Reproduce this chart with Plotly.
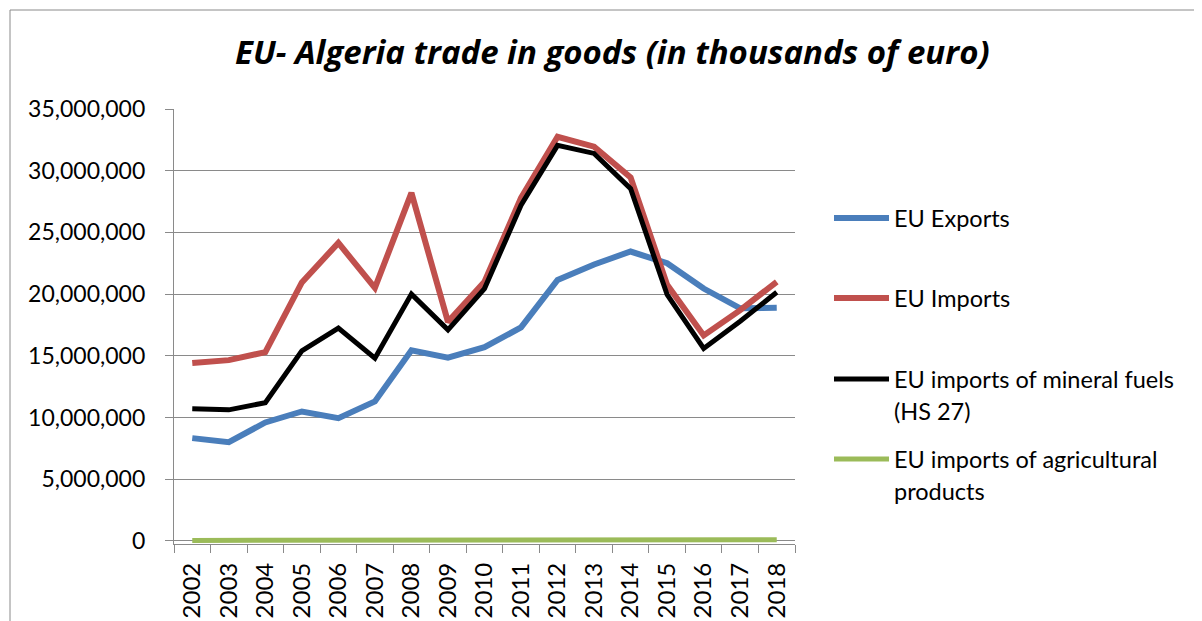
import plotly.graph_objects as go

years = ["2002", "2003", "2004", "2005", "2006", "2007", "2008", "2009", "2010",
         "2011", "2012", "2013", "2014", "2015", "2016", "2017", "2018"]
eu_exports = [8330000, 8000000, 9600000, 10490000, 9950000, 11300000, 15450000, 14850000, 15700000,
              17300000, 21150000, 22400000, 23450000, 22500000, 20450000, 18850000, 18900000]
eu_imports = [14410000, 14650000, 15300000, 20950000, 24150000, 20500000, 28200000, 17750000, 21000000,
              27800000, 32750000, 31950000, 29450000, 20750000, 16650000, 18700000, 21000000]
eu_imports_fuels = [10700000, 10620000, 11200000, 15400000, 17250000, 14800000, 20000000, 17100000, 20450000,
                    27200000, 32050000, 31400000, 28550000, 19950000, 15600000, 17800000, 20150000]
eu_imports_agri = [40000, 40000, 40000, 40000, 40000, 40000, 40000, 40000, 50000,
                   120000, 90000, 130000, 120000, 80000, 100000, 130000, 100000]

series_names = ["EU Exports", "EU Imports", "EU imports of mineral fuels (HS 27)",
                "EU imports of agricultural products"]
legend_lines = [["EU Exports"], ["EU Imports"], ["EU imports of mineral fuels", "(HS 27)"],
                ["EU imports of agricultural", "products"]]
colors = ["#4A7EBB", "#C0504D", "#000000", "#9BBB59"]
widths = [6, 6, 5, 5]
title_text = "EU- Algeria trade in goods (in thousands of euro)"

OFF = 8  # page body margin
W, H = 1202 - OFF, 621 - OFF
L, R, T, B = 174 - OFF, 795 - OFF, 109 - OFF, 544 - OFF
FONT = "Lato"
GRAY = "#8a8a8a"


def px(x):
    # x in screenshot pixels -> paper fraction
    return (x - OFF - L) / (R - L)


def py(y):
    return (B - (y - OFF)) / (B - T)


fig = go.Figure()
for vals, name, col, w in zip([eu_exports, eu_imports, eu_imports_fuels, eu_imports_agri],
                              series_names, colors, widths):
    fig.add_trace(go.Scatter(x=years, y=vals, mode="lines", name=name,
                             line=dict(color=col, width=w), showlegend=False))

shapes = [dict(type="rect", xref="paper", yref="paper", x0=px(10), x1=px(1230), y0=py(10), y1=py(650),
               line=dict(color=GRAY, width=1), fillcolor="rgba(0,0,0,0)", layer="below")]
annotations = [dict(text=title_text, xref="paper", yref="paper", x=px(612), y=py(52),
                    xanchor="center", yanchor="middle", showarrow=False,
                    font=dict(family="Open Sans", size=33, color="#000", weight="bold", style="italic"))]

leg_y = [218, 298, 379, 459]
line_gap = 32
for ly, lines, col, w in zip(leg_y, legend_lines, colors, widths):
    shapes.append(dict(type="line", xref="paper", yref="paper", x0=px(834), x1=px(889),
                       y0=py(ly), y1=py(ly), line=dict(color=col, width=w)))
    for i, t in enumerate(lines):
        annotations.append(dict(text=t, xref="paper", yref="paper", x=px(892), y=py(ly + i * line_gap),
                                xanchor="left", yanchor="middle", showarrow=False,
                                font=dict(family=FONT, size=23.5, color="#000")))

fig.update_layout(
    width=W, height=H,
    margin=dict(l=L, r=W - R, t=T, b=H - B, pad=0, autoexpand=False),
    paper_bgcolor="white", plot_bgcolor="white",
    font=dict(family=FONT, size=22, color="#000"),
    shapes=shapes, annotations=annotations,
    xaxis=dict(type="category", range=[-0.5, 16.5], showline=True, linecolor=GRAY, linewidth=1.3,
               ticks="outside", tickson="boundaries", ticklen=8, tickcolor=GRAY, tickwidth=1.3,
               tickangle=-90, tickfont=dict(family=FONT, size=24, color="#000"), showgrid=False,
               ticklabelstandoff=8, automargin=False),
    yaxis=dict(range=[-250000, 35000000], tickvals=[0, 5e6, 10e6, 15e6, 20e6, 25e6, 30e6, 35e6],
               tickformat=",d", showgrid=True, gridcolor=GRAY, gridwidth=1.3, zeroline=False,
               showline=True, linecolor=GRAY, linewidth=1.3, ticks="outside", ticklen=8,
               tickcolor=GRAY, tickwidth=1.3, tickfont=dict(family=FONT, size=23, color="#000"),
               ticklabelstandoff=15, automargin=False),
)

fig.write_html("out.html")
